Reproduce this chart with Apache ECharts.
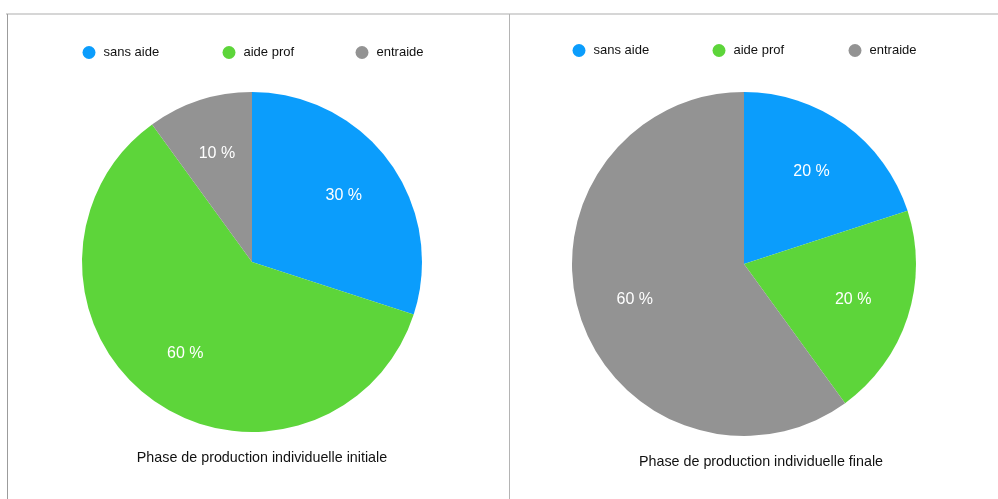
<!DOCTYPE html>
<html>
<head>
<meta charset="utf-8">
<script src="https://cdn.jsdelivr.net/npm/echarts@6/dist/echarts.min.js"></script>
<style>
html,body{margin:0;padding:0;background:#fff;}
#chart{width:998px;height:499px;}
</style>
</head>
<body>
<div id="chart"></div>
<script>
const categories = ['sans aide', 'aide prof', 'entraide'];
const valuesInitiale = [30, 60, 10];
const valuesFinale = [20, 20, 60];
const titles = ['Phase de production individuelle initiale', 'Phase de production individuelle finale'];
const colors = ['#0b9dfc', '#5dd53a', '#939393'];

const FONT = '"Liberation Sans", Arial, Helvetica, sans-serif';

function mk(values) {
  return categories.map((c, i) => ({ name: c, value: values[i] }));
}

function pieSeries(values, center, r) {
  return [
    {
      type: 'pie',
      center: center,
      radius: r,
      startAngle: 90,
      clockwise: true,
      silent: true,
      label: { show: false },
      labelLine: { show: false },
      itemStyle: { borderWidth: 0 },
      emphasis: { disabled: true },
      data: mk(values)
    },
    {
      type: 'pie',
      center: center,
      radius: [r * 0.3, r],
      startAngle: 90,
      clockwise: true,
      silent: true,
      legendHoverLink: false,
      itemStyle: { color: 'rgba(0,0,0,0)', borderWidth: 0 },
      label: {
        show: true,
        position: 'inside',
        formatter: '{c} %',
        color: '#ffffff',
        fontSize: 16,
        padding: [5, 0, 0, 0],
        fontFamily: FONT
      },
      labelLine: { show: false },
      emphasis: { disabled: true },
      data: mk(values).map(d => ({ name: d.name + ' ', value: d.value }))
    }
  ];
}

const chart = echarts.init(document.getElementById('chart'), null, { renderer: 'canvas' });

function legendItem(i, left, top) {
  return {
    data: [categories[i]],
    icon: 'circle',
    itemWidth: 19,
    itemHeight: 13,
    padding: 0,
    left: left,
    top: top,
    selectedMode: false,
    textStyle: { fontSize: 13, color: '#111', fontFamily: FONT }
  };
}

const leftLegendX = [82.5, 222.5, 355.5];
const rightLegendX = [572.5, 712.5, 848.5];

chart.setOption({
  backgroundColor: '#ffffff',
  animation: false,
  color: colors,
  title: [
    { text: titles[0], left: 257, top: 446, textAlign: 'center',
      textStyle: { fontSize: 14.3, fontWeight: 'normal', color: '#111', fontFamily: FONT } },
    { text: titles[1], left: 756, top: 450, textAlign: 'center',
      textStyle: { fontSize: 14.3, fontWeight: 'normal', color: '#111', fontFamily: FONT } }
  ],
  legend: [
    legendItem(0, leftLegendX[0], 46),
    legendItem(1, leftLegendX[1], 46),
    legendItem(2, leftLegendX[2], 46),
    legendItem(0, rightLegendX[0], 44),
    legendItem(1, rightLegendX[1], 44),
    legendItem(2, rightLegendX[2], 44)
  ],
  graphic: [
    { type: 'line', shape: { x1: 6, y1: 14, x2: 998, y2: 14 }, style: { stroke: '#c8c8c8', lineWidth: 1.5 }, silent: true },
    { type: 'line', shape: { x1: 7.5, y1: 14, x2: 7.5, y2: 499 }, style: { stroke: '#9c9c9c', lineWidth: 1 }, silent: true },
    { type: 'line', shape: { x1: 509.5, y1: 14, x2: 509.5, y2: 499 }, style: { stroke: '#b4b4b4', lineWidth: 1 }, silent: true }
  ],
  series: [].concat(
    pieSeries(valuesInitiale, [252, 262], 170),
    pieSeries(valuesFinale, [744, 264], 172)
  )
});
</script>
</body>
</html>
